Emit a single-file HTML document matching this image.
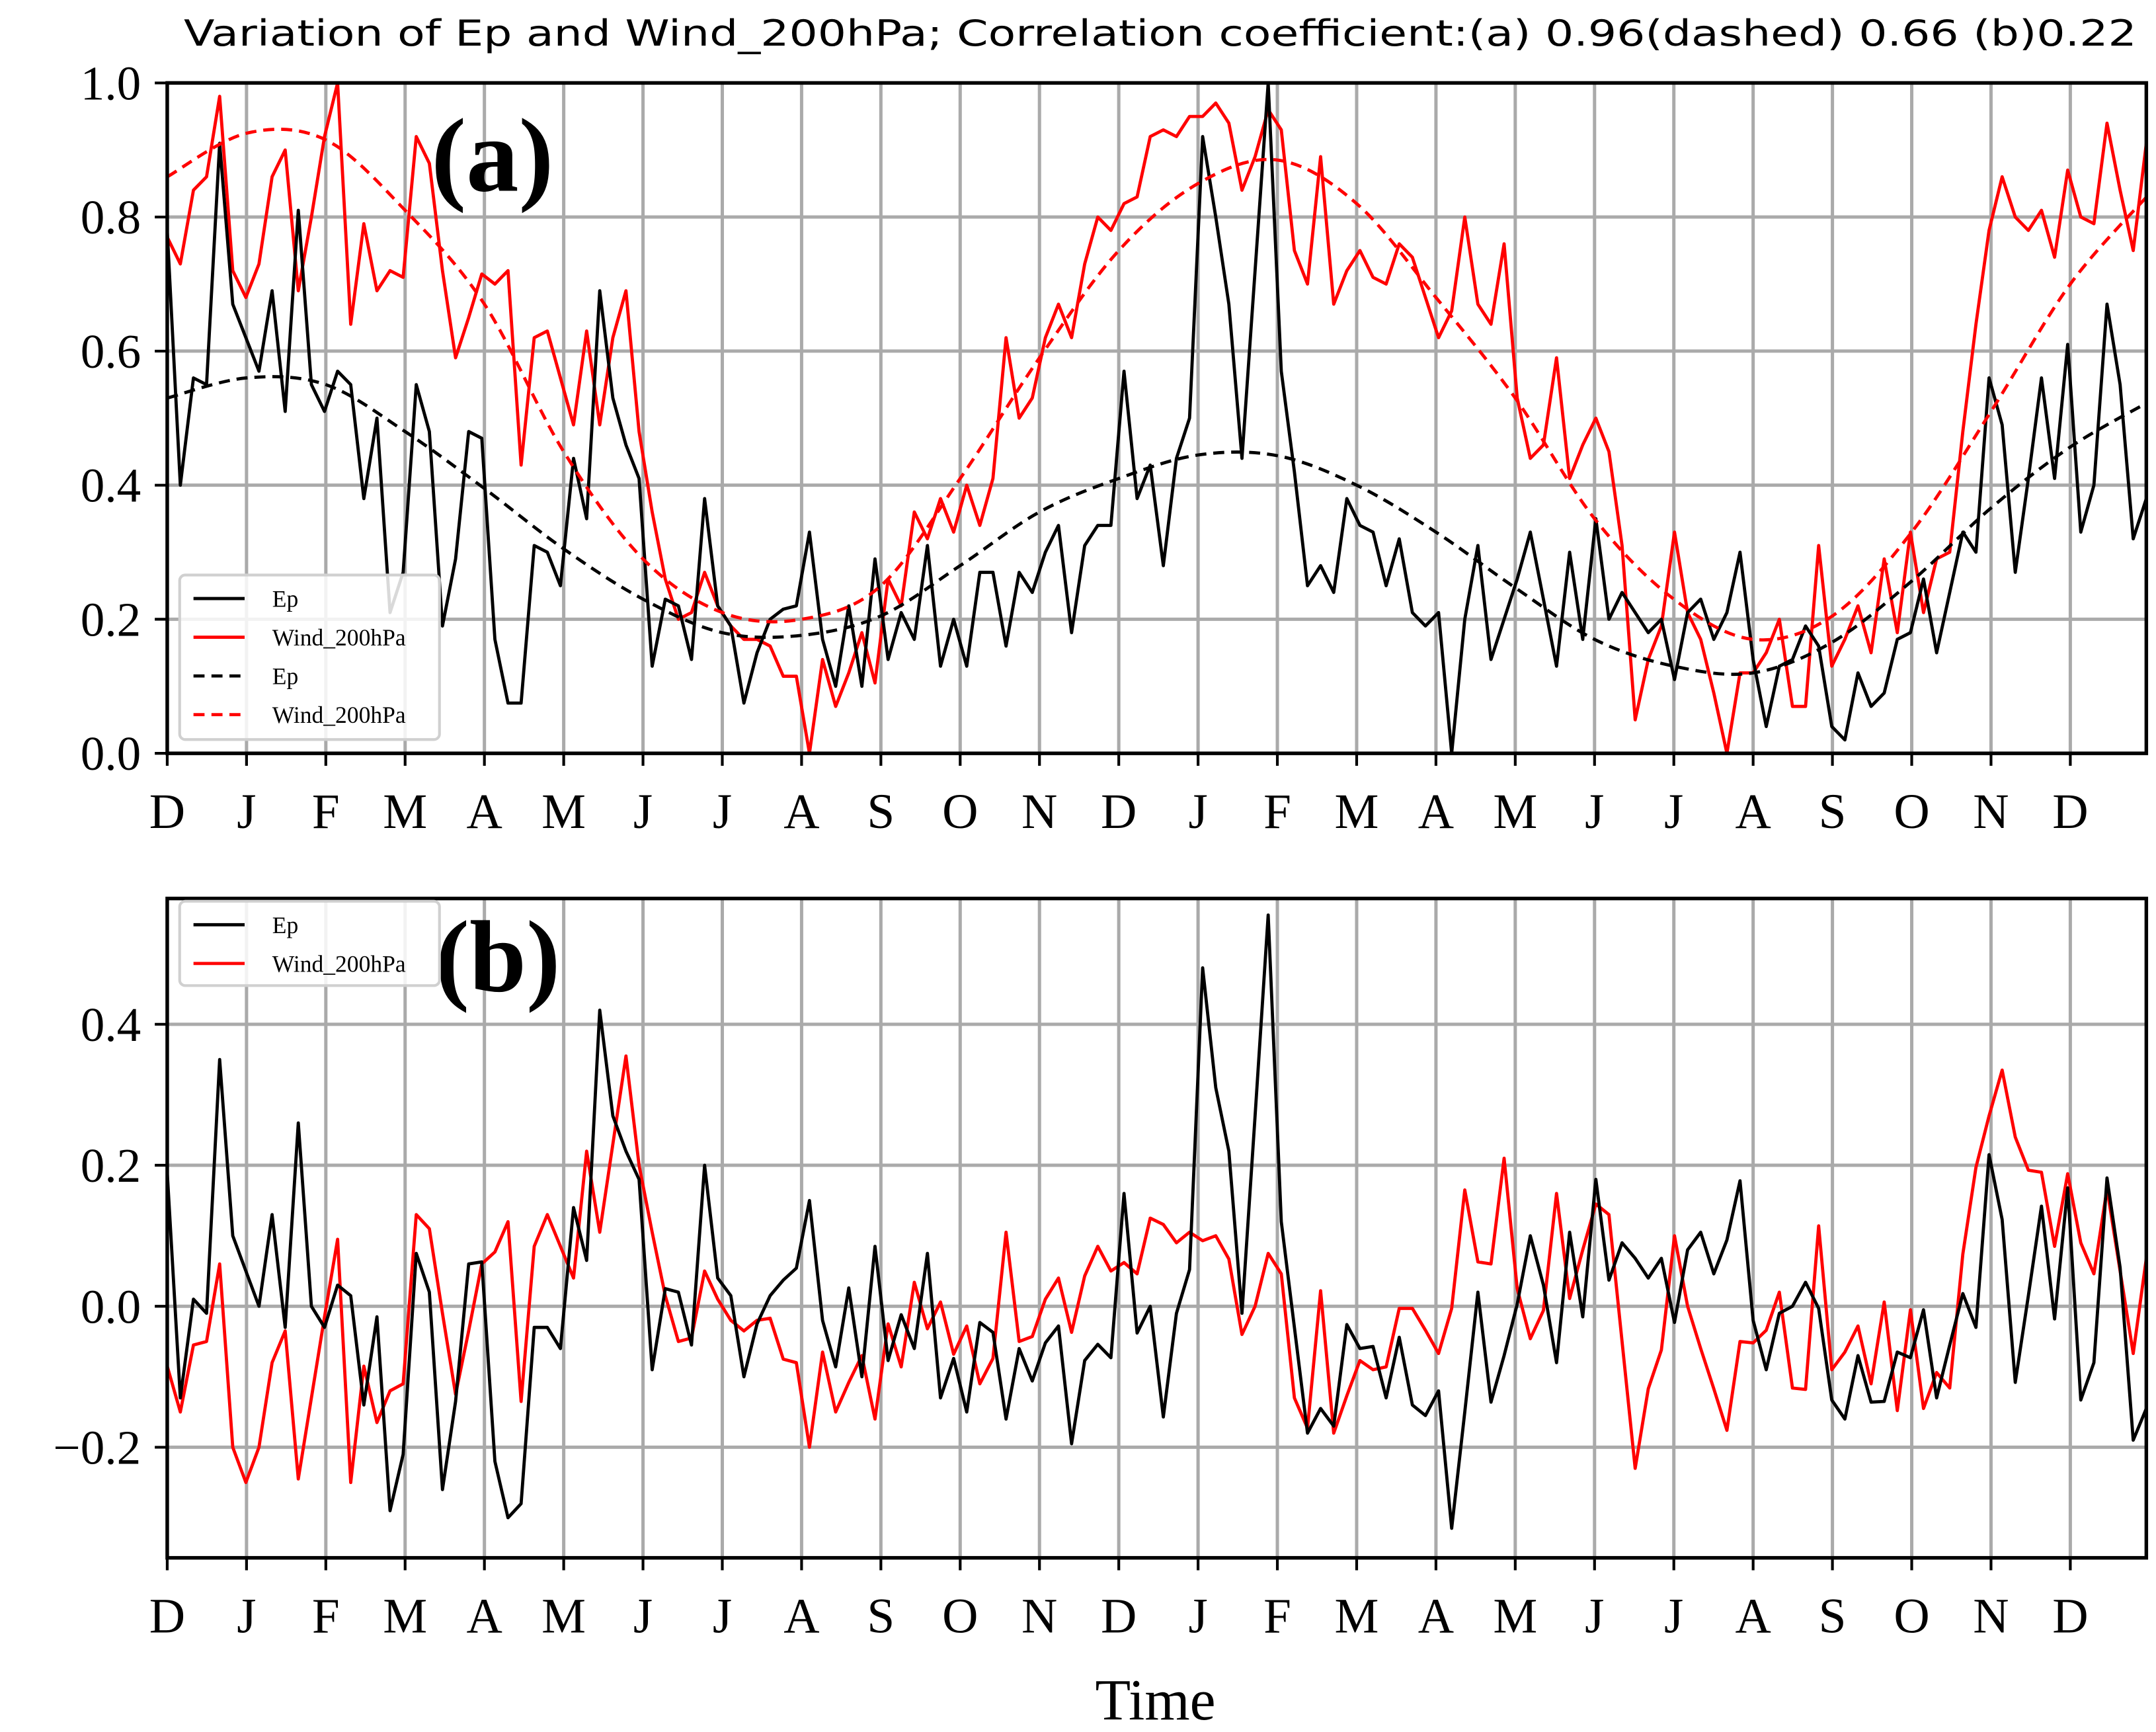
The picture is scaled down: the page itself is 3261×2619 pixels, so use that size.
<!DOCTYPE html>
<html><head><meta charset="utf-8"><style>
html,body{margin:0;padding:0;background:#fff;}
svg{display:block;}
</style></head><body>
<svg id="chart" xmlns="http://www.w3.org/2000/svg" width="3261" height="2619" viewBox="0 0 1560 1253" preserveAspectRatio="none">
<rect x="0" y="0" width="1560" height="1253" fill="#fff"/>
<text x="133" y="33" font-family="DejaVu Sans, sans-serif" font-size="26" textLength="1413" lengthAdjust="spacingAndGlyphs" fill="#000">Variation of Ep and Wind_200hPa; Correlation coefficient:(a) 0.96(dashed) 0.66 (b)0.22</text>
<g id="grid"></g>
<g id="series"></g>
<g id="axes"></g>
<g id="legends"></g>
<text x="836" y="1244" text-anchor="middle" font-family="Liberation Serif, serif" font-size="42">Time</text>
</svg>
<script>
const monthLabels = ["D","J","F","M","A","M","J","J","A","S","O","N","D","J","F","M","A","M","J","J","A","S","O","N","D"];
const yTicksA = [0.0,0.2,0.4,0.6,0.8,1.0];
const yTickLabelsA = ["0.0","0.2","0.4","0.6","0.8","1.0"];
const yTicksB = [-0.2,0.0,0.2,0.4];
const yTickLabelsB = ["\u22120.2","0.0","0.2","0.4"];

const epA = [0.78,0.40,0.56,0.55,0.91,0.67,0.62,0.57,0.69,0.51,0.81,0.55,0.51,0.57,0.55,0.38,0.50,0.21,0.27,0.55,0.48,0.19,0.29,0.48,0.47,0.17,0.075,0.075,0.31,0.30,0.25,0.44,0.35,0.69,0.53,0.46,0.41,0.13,0.23,0.22,0.14,0.38,0.22,0.19,0.075,0.15,0.20,0.215,0.22,0.33,0.17,
0.10,0.22,0.10,0.29,0.14,0.21,0.17,0.31,0.13,0.20,0.13,0.27,0.27,0.16,0.27,0.24,0.30,0.34,0.18,0.31,0.34,0.34,0.57,0.38,0.43,0.28,0.44,0.50,0.92,0.80,0.67,0.44,0.72,1.0,0.57,0.42,0.25,0.28,0.24,0.38,0.34,0.33,0.25,0.32,0.21,0.19,0.21,0.0,0.20,0.31,0.14,
0.20,0.26,0.33,0.23,0.13,0.30,0.17,0.35,0.20,0.24,0.21,0.18,0.20,0.11,0.21,0.23,0.17,0.21,0.30,0.14,0.04,0.13,0.14,0.19,0.16,0.04,0.02,0.12,0.07,0.09,0.17,0.18,0.26,0.15,0.24,0.33,0.30,0.56,0.49,0.27,0.41,0.56,0.41,0.61,0.33,0.40,0.67,0.55,0.32,0.38];
const windA = [0.77,0.73,0.84,0.86,0.98,0.72,0.68,0.73,0.86,0.90,0.69,0.80,0.92,1.0,0.64,0.79,0.69,0.72,0.71,0.92,0.88,0.72,0.59,0.65,0.715,0.70,0.72,0.43,0.62,0.63,0.56,0.49,0.63,0.49,0.62,0.69,0.48,0.36,0.26,0.20,0.21,0.27,0.22,0.19,0.17,0.17,0.16,0.115,0.115,0.0,0.14,
0.07,0.12,0.18,0.105,0.26,0.22,0.36,0.32,0.38,0.33,0.40,0.34,0.41,0.62,0.50,0.53,0.62,0.67,0.62,0.73,0.80,0.78,0.82,0.83,0.92,0.93,0.92,0.95,0.95,0.97,0.94,0.84,0.89,0.96,0.93,0.75,0.70,0.89,0.67,0.72,0.75,0.71,0.70,0.76,0.74,0.68,0.62,0.66,0.80,0.67,0.64,
0.76,0.53,0.44,0.46,0.59,0.41,0.46,0.50,0.45,0.31,0.05,0.14,0.19,0.33,0.21,0.17,0.09,0.0,0.12,0.12,0.15,0.20,0.07,0.07,0.31,0.13,0.17,0.22,0.15,0.29,0.18,0.33,0.21,0.29,0.30,0.48,0.64,0.78,0.86,0.80,0.78,0.81,0.74,0.87,0.80,0.79,0.94,0.84,0.75,0.91];
const epFitMonthly = [0.53,0.56,0.55,0.48,0.395,0.305,0.23,0.18,0.176,0.205,0.28,0.36,0.41,0.445,0.444,0.40,0.33,0.247,0.17,0.13,0.12,0.166,0.257,0.366,0.457,0.525];
const windFitMonthly = [0.86,0.925,0.915,0.81,0.67,0.45,0.29,0.21,0.20,0.25,0.41,0.59,0.75,0.85,0.885,0.82,0.68,0.53,0.35,0.23,0.17,0.205,0.33,0.51,0.70,0.835];

const epB = [0.19,-0.13,0.01,-0.01,0.35,0.10,0.05,0.0,0.13,-0.03,0.26,0.0,-0.03,0.03,0.015,-0.14,-0.015,-0.29,-0.21,0.075,0.02,-0.26,-0.135,0.06,0.063,-0.22,-0.30,-0.28,-0.03,-0.03,-0.06,0.14,0.065,0.42,0.27,0.22,0.18,-0.09,0.025,0.02,-0.055,0.20,0.04,0.015,-0.10,-0.025,0.015,0.037,0.054,0.15,-0.02,
-0.086,0.026,-0.10,0.085,-0.077,-0.012,-0.06,0.075,-0.13,-0.074,-0.15,-0.023,-0.037,-0.16,-0.06,-0.106,-0.052,-0.028,-0.195,-0.077,-0.054,-0.073,0.16,-0.038,0.0,-0.157,-0.01,0.052,0.48,0.31,0.22,-0.01,0.27,0.555,0.12,-0.03,-0.18,-0.145,-0.17,-0.026,-0.06,-0.057,-0.13,-0.044,-0.14,-0.155,-0.12,-0.315,-0.15,0.02,-0.136,
-0.07,0.003,0.10,0.03,-0.08,0.105,-0.015,0.18,0.037,0.09,0.068,0.04,0.068,-0.023,0.08,0.105,0.046,0.094,0.178,-0.02,-0.09,-0.01,0.0,0.034,-0.003,-0.133,-0.16,-0.07,-0.136,-0.135,-0.065,-0.073,-0.005,-0.13,-0.055,0.018,-0.03,0.215,0.123,-0.108,0.015,0.142,-0.018,0.168,-0.133,-0.08,0.182,0.055,-0.19,-0.145];
const windB = [-0.085,-0.15,-0.055,-0.05,0.06,-0.20,-0.25,-0.20,-0.08,-0.035,-0.245,-0.13,-0.015,0.095,-0.25,-0.085,-0.165,-0.12,-0.11,0.13,0.11,-0.01,-0.125,-0.035,0.06,0.077,0.12,-0.135,0.085,0.13,0.085,0.04,0.22,0.105,0.23,0.355,0.20,0.105,0.015,-0.05,-0.045,0.05,0.01,-0.02,-0.035,-0.02,-0.017,-0.075,-0.08,-0.20,-0.065,
-0.15,-0.108,-0.07,-0.16,-0.025,-0.086,0.034,-0.032,0.006,-0.068,-0.028,-0.11,-0.074,0.105,-0.05,-0.043,0.01,0.04,-0.037,0.043,0.085,0.05,0.062,0.046,0.125,0.116,0.09,0.105,0.093,0.10,0.067,-0.04,0.0,0.075,0.046,-0.13,-0.173,0.022,-0.18,-0.127,-0.077,-0.09,-0.086,-0.003,-0.003,-0.034,-0.067,-0.003,0.165,0.063,0.06,
0.21,0.025,-0.046,-0.006,0.16,0.011,0.08,0.145,0.13,-0.05,-0.23,-0.117,-0.062,0.10,0.0,-0.06,-0.117,-0.176,-0.05,-0.052,-0.034,0.02,-0.116,-0.118,0.114,-0.09,-0.065,-0.028,-0.11,0.006,-0.148,-0.005,-0.145,-0.094,-0.116,0.074,0.197,0.27,0.335,0.24,0.193,0.19,0.085,0.188,0.09,0.046,0.167,0.05,-0.067,0.068];

const NS = "http://www.w3.org/2000/svg";
const L = 121, R = 1553, MONTH = 57.375;
const A = {top:60, bot:545, vmin:0, vmax:1};
const B = {top:650, bot:1127, y0:945, per:510};
function yA(v){ return A.bot - (v - A.vmin) * (A.bot - A.top) / (A.vmax - A.vmin); }
function yB(v){ return B.y0 - v * B.per; }
function xIdx(i, n){ return L + i * (R - L) / (n - 1); }
function xMonth(m){ return L + m * MONTH; }
function mk(tag, attrs, parent){ const e = document.createElementNS(NS, tag); for (const k in attrs) e.setAttribute(k, attrs[k]); parent.appendChild(e); return e; }

const grid = document.getElementById('grid');
const series = document.getElementById('series');
const axes = document.getElementById('axes');
const legends = document.getElementById('legends');
const LW = 2.3;

function drawPanel(P, yf, ticks, tickLabels, tag){
  monthLabels.forEach((lab, k) => {
    const x = xMonth(k);
    const g = mk('line', {x1:x, x2:x, y1:P.top, y2:P.bot, stroke:'#aaaaaa', 'stroke-width':2.4}, grid);
    
    
    const t = mk('line', {x1:x, x2:x, y1:P.bot, y2:P.bot + 9, stroke:'#000', 'stroke-width':2}, axes);
    
    
    const tx = mk('text', {x:x, y:P.bot + 54, 'text-anchor':'middle', 'font-family':'Liberation Serif, serif', 'font-size':36}, axes);
    tx.textContent = lab;
    
    
  });
  ticks.forEach((v, k) => {
    const y = yf(v);
    const g = mk('line', {x1:L, x2:R, y1:y, y2:y, stroke:'#aaaaaa', 'stroke-width':2.4}, grid);
    
    
    const t = mk('line', {x1:L - 9, x2:L, y1:y, y2:y, stroke:'#000', 'stroke-width':2}, axes);
    
    
    const tx = mk('text', {x:L - 19, y:y + 12, 'text-anchor':'end', 'font-family':'Liberation Serif, serif', 'font-size':35}, axes);
    tx.textContent = tickLabels[k];
    
    
  });
  const fr = mk('rect', {x:L, y:P.top, width:R - L, height:P.bot - P.top, fill:'none', stroke:'#000', 'stroke-width':2.6}, axes);
  
  
}

function linePath(vals, yf){
  return vals.map((v, i) => (i ? 'L' : 'M') + xIdx(i, vals.length).toFixed(2) + ' ' + yf(v).toFixed(2)).join(' ');
}
function smoothPath(vals, yf){
  const pts = vals.map((v, m) => [xMonth(m), yf(v)]);
  let d = 'M' + pts[0][0] + ' ' + pts[0][1];
  for (let i = 0; i < pts.length - 1; i++){
    const p0 = pts[Math.max(0, i - 1)], p1 = pts[i], p2 = pts[i + 1], p3 = pts[Math.min(pts.length - 1, i + 2)];
    const c1 = [p1[0] + (p2[0] - p0[0]) / 6, p1[1] + (p2[1] - p0[1]) / 6];
    const c2 = [p2[0] - (p3[0] - p1[0]) / 6, p2[1] - (p3[1] - p1[1]) / 6];
    d += ' C' + c1[0].toFixed(2) + ' ' + c1[1].toFixed(2) + ' ' + c2[0].toFixed(2) + ' ' + c2[1].toFixed(2) + ' ' + p2[0].toFixed(2) + ' ' + p2[1].toFixed(2);
  }
  return d;
}

drawPanel(A, yA, yTicksA, yTickLabelsA, 'a');
drawPanel(B, yB, yTicksB, yTickLabelsB, 'b');

const defs = mk('defs', {}, document.getElementById('chart'));
const cpA = mk('clipPath', {id:'clipA'}, defs); mk('rect', {x:L, y:A.top - 2, width:R - L, height:A.bot - A.top + 4}, cpA);
const cpB = mk('clipPath', {id:'clipB'}, defs); mk('rect', {x:L, y:B.top, width:R - L, height:B.bot - B.top}, cpB);

let p;
p = mk('path', {d:linePath(windA, yA), fill:'none', stroke:'#ff0000', 'stroke-width':LW, 'stroke-linejoin':'round', 'clip-path':'url(#clipA)'}, series);


p = mk('path', {d:linePath(epA, yA), fill:'none', stroke:'#000', 'stroke-width':LW, 'stroke-linejoin':'round', 'clip-path':'url(#clipA)'}, series);


p = mk('path', {d:smoothPath(epFitMonthly, yA), fill:'none', stroke:'#000', 'stroke-width':LW, 'stroke-dasharray':'8 5', 'clip-path':'url(#clipA)'}, series);


p = mk('path', {d:smoothPath(windFitMonthly, yA), fill:'none', stroke:'#ff0000', 'stroke-width':LW, 'stroke-dasharray':'8 5', 'clip-path':'url(#clipA)'}, series);


p = mk('path', {d:linePath(windB, yB), fill:'none', stroke:'#ff0000', 'stroke-width':LW, 'stroke-linejoin':'round', 'clip-path':'url(#clipB)'}, series);


p = mk('path', {d:linePath(epB, yB), fill:'none', stroke:'#000', 'stroke-width':LW, 'stroke-linejoin':'round', 'clip-path':'url(#clipB)'}, series);



let t = mk('text', {x:312, y:138, 'font-family':'Liberation Serif, serif', 'font-weight':'bold', 'font-size':76}, legends);
t.textContent = '(a)';


t = mk('text', {x:315, y:717, 'font-family':'Liberation Serif, serif', 'font-weight':'bold', 'font-size':74}, legends);
t.textContent = '(b)';



function legend(x, y, w, h, entries, tag){
  const g = mk('g', {}, legends);
  
  
  mk('rect', {x:x, y:y, width:w, height:h, rx:4, fill:'#fff', 'fill-opacity':0.85, stroke:'#d0d0d0', 'stroke-width':2}, g);
  entries.forEach((e, k) => {
    const yy = y + 17 + k * 28;
    const en = mk('g', {}, g);
    
    
    mk('line', {x1:x + 10, x2:x + 47, y1:yy, y2:yy, stroke:e.c, 'stroke-width':LW, 'stroke-dasharray':e.d ? '8 5' : 'none'}, en);
    const tx = mk('text', {x:x + 67, y:yy + 6, 'font-family':'Liberation Serif, serif', 'font-size':17}, en);
    tx.textContent = e.t;
  });
}
legend(130, 416, 188, 119, [{c:'#000',t:'Ep'},{c:'#ff0000',t:'Wind_200hPa'},{c:'#000',t:'Ep',d:1},{c:'#ff0000',t:'Wind_200hPa',d:1}], 'a');
legend(130, 652, 188, 61, [{c:'#000',t:'Ep'},{c:'#ff0000',t:'Wind_200hPa'}], 'b');
</script>
</body></html>
